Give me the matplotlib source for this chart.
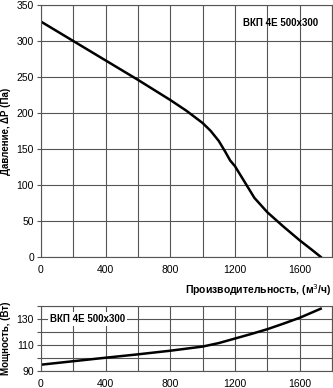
import numpy as np
import matplotlib
matplotlib.use('Agg')
import matplotlib.pyplot as plt

plt.rcParams['font.family'] = ['Liberation Sans', 'DejaVu Sans']

# Pressure curve (Па) vs flow (м3/ч)
flow_p = [0, 200, 400, 600, 800, 900, 1000, 1050, 1100, 1140, 1170, 1200, 1260, 1320, 1400, 1500, 1600, 1680, 1730]
pressure = [327, 300, 273, 246, 218, 203, 186, 175, 161, 146, 134, 126, 104, 82, 62, 42, 23, 9, 0]

# Power curve (Вт) vs flow
flow_w = [0, 200, 400, 600, 800, 1000, 1100, 1200, 1300, 1400, 1500, 1600, 1730]
power = [94.8, 97.5, 100.2, 102.8, 105.6, 108.8, 111.5, 115.0, 118.5, 122.2, 126.5, 131.0, 138.0]

title = 'ВКП 4E 500x300'
xticks = [0, 400, 800, 1200, 1600]

fig = plt.figure(figsize=(3.33, 3.88), dpi=100)
ax1 = fig.add_axes([0.123, 0.338, 0.874, 0.649])
ax2 = fig.add_axes([0.123, 0.044, 0.874, 0.167])

grid_kw = dict(color='#555555', linewidth=0.8)

for ax in (ax1, ax2):
    ax.set_xlim(0, 1800)
    ax.set_xticks(xticks)
    ax.set_xticks(np.arange(0, 1801, 200), minor=True)
    ax.grid(True, which='both', axis='x', **grid_kw)
    ax.grid(True, which='major', axis='y', **grid_kw)
    ax.tick_params(axis='both', labelsize=7.5, length=3, width=0.8, color='#555555', pad=2)
    ax.tick_params(axis='x', which='minor', length=0)
    ax.tick_params(axis='x', which='major', length=0, pad=6)
    for s in ax.spines.values():
        s.set_color('#555555')
        s.set_linewidth(0.8)
    ax.set_axisbelow(True)

# top panel
ax1.plot(flow_p, pressure, color='black', linewidth=1.8)
ax1.set_ylim(0, 350)
ax1.set_yticks(np.arange(0, 351, 50))
ax1.set_ylabel('Давление, ΔP (Па)', fontsize=7, fontweight='bold', labelpad=4)
ax1.text(1480, 325, title, fontsize=7, fontweight='bold', ha='center', va='center')
ax1.set_xlabel('Производительность, (м$^3$/ч)', fontsize=7.5, fontweight='bold', labelpad=6)
ax1.xaxis.set_label_coords(1.0, -0.1, transform=ax1.transAxes)
ax1.xaxis.label.set_ha('right')

# bottom panel
ax2.plot(flow_w, power, color='black', linewidth=1.8)
ax2.set_ylim(90, 140)
ax2.set_yticks([90, 100, 110, 120, 130, 140])
ax2.set_yticklabels(['90', '', '110', '', '130', ''])
ax2.grid(True, which='major', axis='y', **grid_kw)
ax2.set_ylabel('Мощность, (Вт)', fontsize=7, fontweight='bold', labelpad=4)
ax2.text(290, 130, title, fontsize=7, fontweight='bold', ha='center', va='center',
         bbox=dict(facecolor='white', edgecolor='none', pad=1.5))

fig.savefig('out.png', dpi=100)
